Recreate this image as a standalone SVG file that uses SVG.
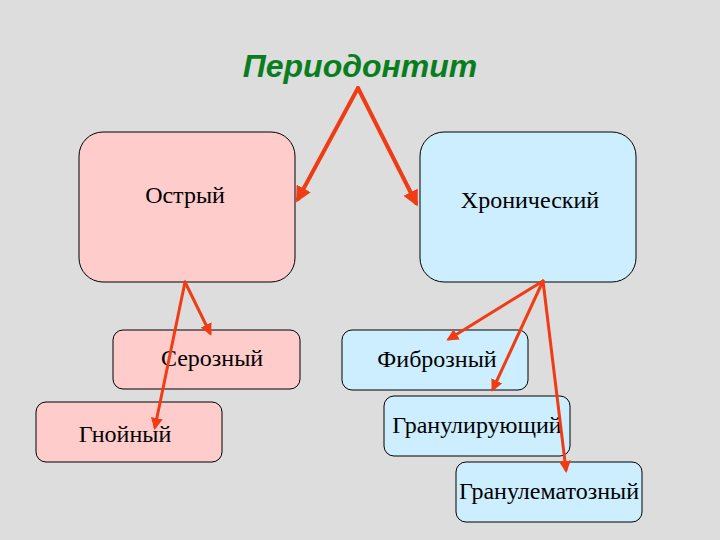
<svg xmlns="http://www.w3.org/2000/svg" width="720" height="540" viewBox="0 0 720 540">
<defs>
<marker id="ah" markerWidth="4" markerHeight="4" refX="3" refY="2" orient="auto" markerUnits="strokeWidth"><path d="M0,0 L4,2 L0,4 Z" fill="#f03c14"/></marker>
<style>
.p{fill:#ffcccc;stroke:#000;stroke-width:1}
.b{fill:#cceeff;stroke:#000;stroke-width:1}
.t{font-family:"Liberation Serif",serif;font-size:24px;fill:#000;text-anchor:middle}
.c{stroke:#f03c14;fill:none;stroke-linecap:round}
</style>
</defs>
<rect width="720" height="540" fill="#dddddd"/>
<g id="title"><text x="360" y="77" font-family="Liberation Sans,sans-serif" font-size="32" font-weight="bold" font-style="italic" fill="#0a7d1e" text-anchor="middle">Периодонтит</text></g>
<g id="n-ostry"><rect class="p" x="79" y="132" width="216" height="150" rx="24"/><text class="t" x="185" y="203">Острый</text></g>
<g id="n-hron"><rect class="b" x="420" y="132" width="216" height="150" rx="24"/><text class="t" x="530" y="208">Хронический</text></g>
<g id="n-seroz"><rect class="p" x="113" y="330" width="187" height="59" rx="10"/><text class="t" x="212" y="366">Серозный</text></g>
<g id="n-gnoy"><rect class="p" x="36" y="402" width="186" height="60" rx="10"/><text class="t" x="125" y="442">Гнойный</text></g>
<g id="n-fibr"><rect class="b" x="342" y="330" width="186" height="60" rx="10"/><text class="t" x="437" y="367">Фиброзный</text></g>
<g id="n-granul"><rect class="b" x="384" y="396" width="186" height="60" rx="10"/><text class="t" x="477" y="433">Гранулирующий</text></g>
<g id="n-granulem"><rect class="b" x="456" y="462" width="186" height="60" rx="10"/><text class="t" x="549" y="499">Гранулематозный</text></g>
<g id="connectors">
<line class="c" stroke-width="4" x1="358" y1="88" x2="298" y2="199" marker-end="url(#ah)"/>
<line class="c" stroke-width="4" x1="358" y1="88" x2="416" y2="203" marker-end="url(#ah)"/>
<line class="c" stroke-width="3" x1="185" y1="282" x2="210" y2="333" marker-end="url(#ah)"/>
<line class="c" stroke-width="3" x1="185" y1="282" x2="155" y2="427" marker-end="url(#ah)"/>
<line class="c" stroke-width="3" x1="543" y1="281" x2="449" y2="339" marker-end="url(#ah)"/>
<line class="c" stroke-width="3" x1="543" y1="281" x2="493" y2="389" marker-end="url(#ah)"/>
<line class="c" stroke-width="3" x1="543" y1="281" x2="566" y2="470" marker-end="url(#ah)"/>
</g>
</svg>
